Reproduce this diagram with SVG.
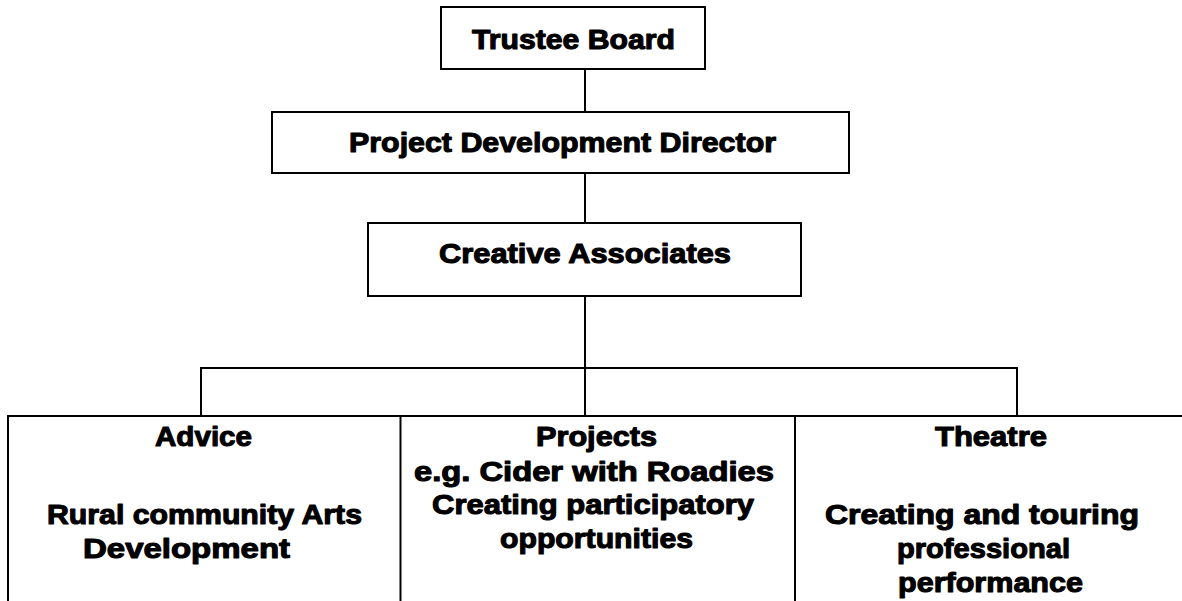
<svg xmlns="http://www.w3.org/2000/svg" width="1182" height="601" viewBox="0 0 1182 601">
<style>
.box{fill:#fff;stroke:#000;stroke-width:2}
.ln{stroke:#000;stroke-width:2;fill:none}
text{font-family:"Liberation Sans",Arial,sans-serif;font-weight:bold;font-size:28px;fill:#000;stroke:#000;stroke-width:1.1;stroke-linejoin:round}
</style>
<rect width="1182" height="601" fill="#fff"/>
<g id="connectors">
<line class="ln" x1="585" y1="69" x2="585" y2="112"/>
<line class="ln" x1="585" y1="173" x2="585" y2="223"/>
<line class="ln" x1="585" y1="296" x2="585" y2="416"/>
<line class="ln" x1="200" y1="368" x2="1018" y2="368"/>
<line class="ln" x1="201" y1="368" x2="201" y2="416"/>
<line class="ln" x1="1017" y1="368" x2="1017" y2="416"/>
</g>
<g id="trustee-board">
<rect class="box" x="441" y="7" width="264" height="62"/>
<text x="472" y="48.5" textLength="203" lengthAdjust="spacingAndGlyphs">Trustee Board</text>
</g>
<g id="project-development-director">
<rect class="box" x="272" y="112" width="577" height="61"/>
<text x="349" y="152" textLength="427" lengthAdjust="spacingAndGlyphs">Project Development Director</text>
</g>
<g id="creative-associates">
<rect class="box" x="368" y="223" width="433" height="73"/>
<text x="439" y="263" textLength="292" lengthAdjust="spacingAndGlyphs">Creative Associates</text>
</g>
<g id="bottom-row">
<line class="ln" x1="7" y1="416" x2="1182" y2="416"/>
</g>
<g id="advice">
<line class="ln" x1="8" y1="416" x2="8" y2="601"/>
<text x="155" y="446" textLength="97" lengthAdjust="spacingAndGlyphs">Advice</text>
<text x="47" y="524" textLength="315" lengthAdjust="spacingAndGlyphs">Rural community Arts</text>
<text x="83" y="558" textLength="207" lengthAdjust="spacingAndGlyphs">Development</text>
</g>
<g id="projects">
<line class="ln" x1="400.5" y1="416" x2="400.5" y2="601"/>
<text x="536" y="446" textLength="121" lengthAdjust="spacingAndGlyphs">Projects</text>
<text x="414" y="481" textLength="360" lengthAdjust="spacingAndGlyphs">e.g. Cider with Roadies</text>
<text x="432" y="514" textLength="322" lengthAdjust="spacingAndGlyphs">Creating participatory</text>
<text x="500" y="548" textLength="193" lengthAdjust="spacingAndGlyphs">opportunities</text>
</g>
<g id="theatre">
<line class="ln" x1="795" y1="416" x2="795" y2="601"/>
<text x="935" y="446" textLength="112" lengthAdjust="spacingAndGlyphs">Theatre</text>
<text x="825" y="524" textLength="314" lengthAdjust="spacingAndGlyphs">Creating and touring</text>
<text x="897" y="558" textLength="173" lengthAdjust="spacingAndGlyphs">professional</text>
<text x="898" y="592" textLength="185" lengthAdjust="spacingAndGlyphs">performance</text>
</g>
</svg>
